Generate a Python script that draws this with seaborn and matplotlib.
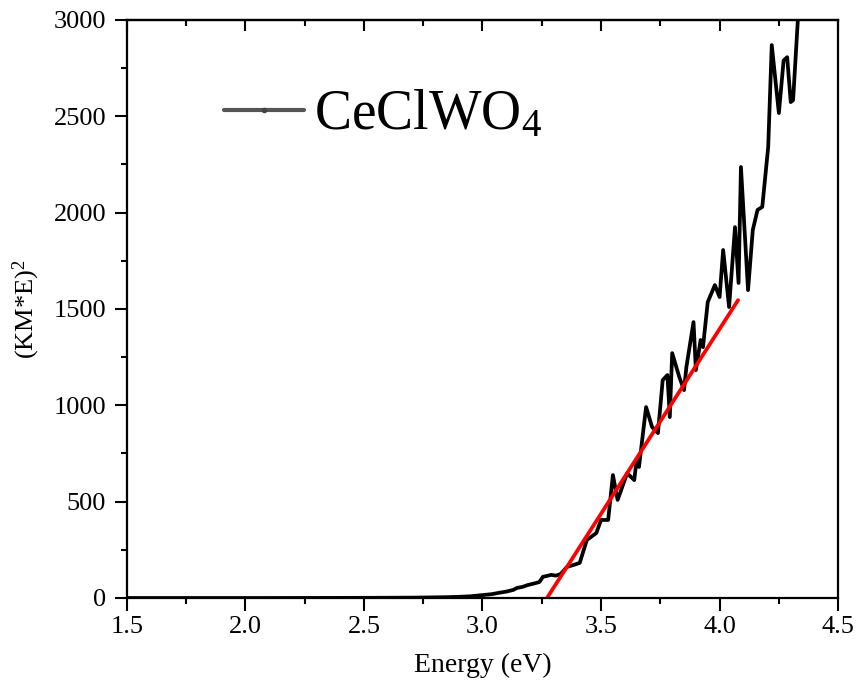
import matplotlib
matplotlib.use("Agg")
import matplotlib.pyplot as plt
from matplotlib.lines import Line2D
from matplotlib.ticker import MultipleLocator, FormatStrFormatter
import pandas as pd
import seaborn as sns

# ---- data ----
energy = [1.50, 1.80, 2.10, 2.40, 2.55, 2.65, 2.72, 2.78, 2.84, 2.90, 2.95, 3.00,
          3.04, 3.07, 3.10, 3.13, 3.145, 3.17, 3.19, 3.22, 3.24, 3.255, 3.27,
          3.29, 3.31, 3.33, 3.356, 3.38, 3.41, 3.44, 3.48, 3.50, 3.53, 3.55,
          3.57, 3.61, 3.64, 3.65, 3.66, 3.69, 3.715, 3.74, 3.76, 3.78, 3.79,
          3.80, 3.83, 3.85, 3.86, 3.89, 3.90, 3.92, 3.93, 3.95, 3.98, 4.00,
          4.015, 4.04, 4.065, 4.08, 4.09, 4.12, 4.14, 4.16, 4.18, 4.205, 4.22,
          4.25, 4.27, 4.285, 4.30, 4.31, 4.33, 4.36]
km_e2 = [0, 0, 0, 0.5, 1, 1.5, 2, 3, 4, 6, 9, 15,
         20, 27, 33, 42, 52, 58, 67, 76, 83, 110, 114,
         120, 116, 125, 161, 170, 182, 301, 337, 405, 405, 638,
         509, 648, 612, 716, 680, 991, 888, 856, 1131, 1157, 939,
         1271, 1147, 1079, 1199, 1432, 1183, 1339, 1302, 1536, 1624, 1562,
         1806, 1510, 1925, 1635, 2237, 1598, 1910, 2014, 2030, 2341, 2870,
         2517, 2790, 2807, 2574, 2584, 3000, 3400]

# linear fit (Tauc extrapolation)
fit_energy = [3.272, 4.078]
fit_value = [0, 1546]

df = pd.DataFrame({"Energy": energy, "KM": km_e2})
fit = pd.DataFrame({"Energy": fit_energy, "KM": fit_value})

sns.set_style("ticks")
plt.rcParams["font.family"] = ["Liberation Serif", "DejaVu Serif"]
plt.rcParams["mathtext.fontset"] = "custom"
plt.rcParams["mathtext.rm"] = "Liberation Serif"
plt.rcParams["mathtext.it"] = "Liberation Serif:italic"
for k in ["text.color", "axes.labelcolor", "xtick.color", "ytick.color", "axes.edgecolor"]:
    plt.rcParams[k] = "black"

fig = plt.figure(figsize=(8.57, 6.8), dpi=100)
ax = fig.add_axes([0.148, 0.1206, 0.830, 0.850])

sns.lineplot(data=df, x="Energy", y="KM", ax=ax, color="black", lw=2.7,
             sort=False, estimator=None)
sns.lineplot(data=fit, x="Energy", y="KM", ax=ax, color="#ff0000", lw=2.7,
             sort=False, estimator=None)

ax.set_xlim(1.5, 4.5)
ax.set_ylim(0, 3000)
ax.xaxis.set_major_locator(MultipleLocator(0.5))
ax.xaxis.set_minor_locator(MultipleLocator(0.25))
ax.yaxis.set_major_locator(MultipleLocator(500))
ax.yaxis.set_minor_locator(MultipleLocator(250))
ax.xaxis.set_major_formatter(FormatStrFormatter("%.1f"))

for s in ax.spines.values():
    s.set_linewidth(1.6)

ax.tick_params(axis="both", which="major", direction="out", length=9, width=1.5,
               labelsize=19, pad=4)
ax.tick_params(axis="y", which="major", pad=6)
ax.tick_params(axis="both", which="minor", direction="out", length=4.5, width=1.5)

# top axis: inward ticks, no labels
top = ax.secondary_xaxis("top")
top.xaxis.set_major_locator(MultipleLocator(0.5))
top.xaxis.set_minor_locator(MultipleLocator(0.25))
top.tick_params(which="major", direction="in", length=8, width=1.5, labeltop=False)
top.tick_params(which="minor", direction="in", length=4.5, width=1.5)
top.spines["top"].set_linewidth(1.6)

ax.set_xlabel("Energy (eV)", fontsize=20, labelpad=11)
ax.set_ylabel("(KM*E)$^2$", fontsize=19, labelpad=8)

handle = Line2D([], [], color="#555555", lw=3, marker="o", markersize=3,
                markerfacecolor="#444444", markeredgecolor="#444444")
ax.legend([handle], ["CeClWO$_4$"], loc="center left",
          bbox_to_anchor=(0.136, 0.835), frameon=False, fontsize=40,
          labelcolor="black", handlelength=1.44, handletextpad=0.18,
          borderpad=0, borderaxespad=0)

fig.savefig("out.png", dpi=100)
